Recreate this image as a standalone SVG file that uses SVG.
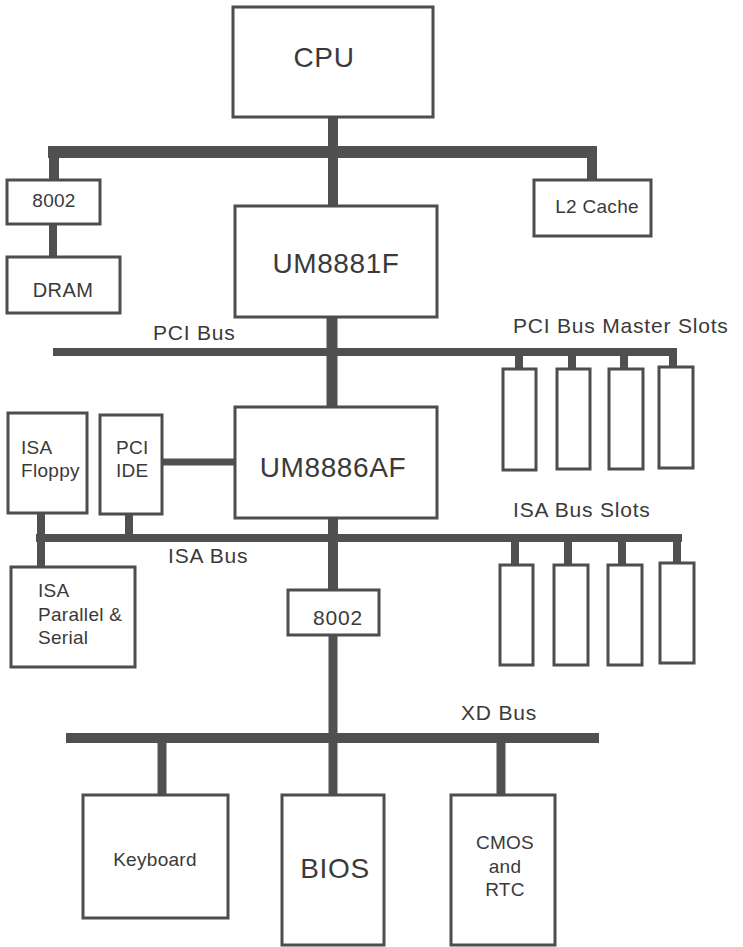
<svg xmlns="http://www.w3.org/2000/svg" width="743" height="947" viewBox="0 0 743 947">
<style>
.box{fill:#fff;stroke:#4d4d4d;stroke-width:3}
.slot{fill:#fff;stroke:#4d4d4d;stroke-width:3}
.bus{stroke:#505050;fill:none}
.t{font-family:"Liberation Sans",Arial,sans-serif;fill:#3a3a3a}
.big{font-size:28px;letter-spacing:0.6px}
.mid{font-size:20px;letter-spacing:0.4px}
.sm{font-size:19px;letter-spacing:0.3px}
.lbl{font-size:21px;letter-spacing:0.8px}
.c{text-anchor:middle}
</style>
<rect width="743" height="947" fill="#fff"/>
<g id="connectors">
  <!-- CPU bus -->
  <line class="bus" x1="333" y1="117" x2="333" y2="206" stroke-width="10"/>
  <line class="bus" x1="48" y1="152" x2="597" y2="152" stroke-width="12"/>
  <line class="bus" x1="54" y1="152" x2="54" y2="180" stroke-width="10"/>
  <line class="bus" x1="53" y1="224" x2="53" y2="258" stroke-width="8"/>
  <line class="bus" x1="592" y1="152" x2="592" y2="180" stroke-width="10"/>
  <!-- PCI bus -->
  <line class="bus" x1="53" y1="352" x2="677" y2="352" stroke-width="8"/>
  <line class="bus" x1="332" y1="317" x2="332" y2="407" stroke-width="11"/>
  <line class="bus" x1="519" y1="352" x2="519" y2="369" stroke-width="8"/>
  <line class="bus" x1="572" y1="352" x2="572" y2="369" stroke-width="8"/>
  <line class="bus" x1="624" y1="352" x2="624" y2="369" stroke-width="8"/>
  <line class="bus" x1="673" y1="352" x2="673" y2="367" stroke-width="8"/>
  <!-- PCI IDE to UM8886AF -->
  <line class="bus" x1="162" y1="462" x2="235" y2="462" stroke-width="7"/>
  <!-- ISA bus -->
  <line class="bus" x1="36" y1="538" x2="682" y2="538" stroke-width="8"/>
  <line class="bus" x1="41" y1="513" x2="41" y2="567" stroke-width="8"/>
  <line class="bus" x1="129" y1="514" x2="129" y2="538" stroke-width="8"/>
  <line class="bus" x1="333" y1="518" x2="333" y2="590" stroke-width="10"/>
  <line class="bus" x1="515" y1="538" x2="515" y2="565" stroke-width="8"/>
  <line class="bus" x1="568" y1="538" x2="568" y2="565" stroke-width="8"/>
  <line class="bus" x1="622" y1="538" x2="622" y2="565" stroke-width="8"/>
  <line class="bus" x1="677" y1="538" x2="677" y2="563" stroke-width="8"/>
  <!-- XD bus -->
  <line class="bus" x1="333" y1="635" x2="333" y2="738" stroke-width="9"/>
  <line class="bus" x1="66" y1="738" x2="599" y2="738" stroke-width="10"/>
  <line class="bus" x1="162" y1="738" x2="162" y2="795" stroke-width="9"/>
  <line class="bus" x1="333" y1="738" x2="333" y2="795" stroke-width="9"/>
  <line class="bus" x1="501" y1="738" x2="501" y2="795" stroke-width="9"/>
</g>
<g id="bus-labels">
  <text class="t lbl" x="153" y="340">PCI Bus</text>
  <text class="t lbl" x="513" y="333">PCI Bus Master Slots</text>
  <text class="t lbl" x="513" y="517">ISA Bus Slots</text>
  <text class="t lbl" x="168" y="563">ISA Bus</text>
  <text class="t lbl" x="461" y="720">XD Bus</text>
</g>
<g id="cpu"><rect class="box" x="233" y="7" width="200" height="110"/><text class="t big c" x="324" y="67">CPU</text></g>
<g id="ctl8002a"><rect class="box" x="7" y="180" width="93" height="44"/><text class="t sm c" x="54" y="207">8002</text></g>
<g id="dram"><rect class="box" x="7" y="257" width="113" height="56"/><text class="t mid c" x="63" y="297">DRAM</text></g>
<g id="l2cache"><rect class="box" x="534" y="180" width="117" height="56"/><text class="t sm c" x="597" y="213">L2 Cache</text></g>
<g id="um8881f"><rect class="box" x="235" y="206" width="202" height="111"/><text class="t big c" x="336" y="273">UM8881F</text></g>
<g id="um8886af"><rect class="box" x="235" y="407" width="202" height="111"/><text class="t big c" x="333" y="477">UM8886AF</text></g>
<g id="isafloppy"><rect class="box" x="8" y="413" width="79" height="100"/><text class="t sm" x="21" y="454">ISA</text><text class="t sm" x="21" y="477">Floppy</text></g>
<g id="pciide"><rect class="box" x="100" y="415" width="62" height="99"/><text class="t sm" x="116" y="454">PCI</text><text class="t sm" x="116" y="477">IDE</text></g>
<g id="isaparallel"><rect class="box" x="11" y="567" width="124" height="100"/><text class="t sm" x="38" y="597">ISA</text><text class="t sm" x="38" y="621">Parallel &amp;</text><text class="t sm" x="38" y="644">Serial</text></g>
<g id="ctl8002b"><rect class="box" x="288" y="590" width="91" height="45"/><text class="t lbl c" x="338" y="625">8002</text></g>
<g id="pcislots">
  <rect class="slot" x="503" y="369" width="33" height="101"/>
  <rect class="slot" x="557" y="369" width="33" height="100"/>
  <rect class="slot" x="609" y="369" width="34" height="100"/>
  <rect class="slot" x="659" y="367" width="34" height="101"/>
</g>
<g id="isaslots">
  <rect class="slot" x="500" y="565" width="33" height="100"/>
  <rect class="slot" x="554" y="565" width="34" height="100"/>
  <rect class="slot" x="608" y="565" width="34" height="100"/>
  <rect class="slot" x="660" y="563" width="34" height="100"/>
</g>
<g id="keyboard"><rect class="box" x="83" y="795" width="145" height="123"/><text class="t sm c" x="155" y="866">Keyboard</text></g>
<g id="bios"><rect class="box" x="282" y="795" width="102" height="150"/><text class="t big c" x="335" y="878">BIOS</text></g>
<g id="cmos"><rect class="box" x="451" y="795" width="104" height="150"/><text class="t sm c" x="505" y="849">CMOS</text><text class="t sm c" x="505" y="873">and</text><text class="t sm c" x="505" y="896">RTC</text></g>
</svg>
